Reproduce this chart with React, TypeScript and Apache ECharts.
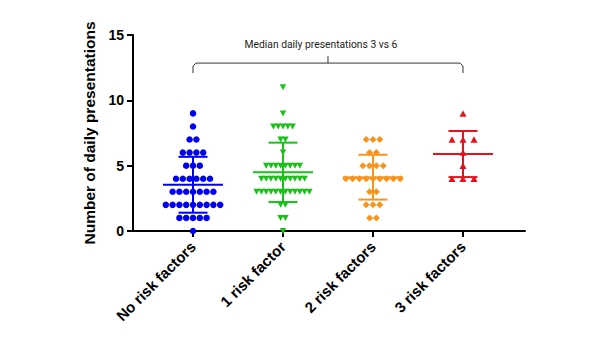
import React, { useEffect, useRef } from "react";
import * as echarts from "echarts";

const categories = ["No risk factors", "1 risk factor", "2 risk factors", "3 risk factors"];
const noRiskValues = [9, 8, 7, 7, 6, 6, 6, 6, 5, 5, 5, 4, 4, 4, 4, 4, 4, 3, 3, 3, 3, 3, 3, 3, 2, 2, 2, 2, 2, 2, 2, 2, 2, 1, 1, 1, 1, 1, 0];
const oneRiskValues = [11, 9, 8, 8, 8, 8, 8, 7, 7, 6, 5, 5, 5, 5, 5, 5, 5, 5, 4, 4, 4, 4, 4, 4, 4, 4, 4, 4, 3, 3, 3, 3, 3, 3, 3, 3, 3, 3, 3, 3, 2, 2, 1, 1, 0];
const twoRiskValues = [7, 7, 7, 6, 6, 5, 5, 5, 5, 4, 4, 4, 4, 4, 4, 4, 4, 4, 3, 3, 2, 2, 2, 1, 1];
const threeRiskValues = [9, 7, 7, 7, 6, 5, 4, 4, 4];
const yTicks = [0, 5, 10, 15];
const annotationText = "Median daily presentations 3 vs 6";
const bracketLevel = 12.85;

const groups = [noRiskValues, oneRiskValues, twoRiskValues, threeRiskValues];
const colors = ["#0000f0", "#19c219", "#f7941d", "#e8101a"];
const symbols = ["circle", "triangle", "diamond", "triangle"];
const rotations = [0, 180, 0, 0];
const sizes: any[] = [6.5, [6.5, 6], [7, 7], [7, 6.5]];
const spacing = [6.8, 4.8, 6.8, 11];

function meanSd(arr: number[]) {
  const n = arr.length;
  const m = arr.reduce((a, b) => a + b, 0) / n;
  const v = arr.reduce((a, b) => a + (b - m) * (b - m), 0) / (n - 1);
  return [m, Math.sqrt(v)];
}

function swarm(arr: number[], gi: number) {
  const rows: Record<number, number> = {};
  arr.forEach((v) => (rows[v] = (rows[v] || 0) + 1));
  const seen: Record<number, number> = {};
  return arr.map((v) => {
    const n = rows[v];
    const i = seen[v] || 0;
    seen[v] = i + 1;
    const dx = (i - (n - 1) / 2) * spacing[gi];
    return { value: [gi, v], symbolOffset: [dx, 0] };
  });
}

export default function App() {
  const ref = useRef<HTMLDivElement>(null);
  useEffect(() => {
    if (!ref.current) return;
    const chart = echarts.init(ref.current, null, { renderer: "svg" });
    const font = "'Liberation Sans', Arial, sans-serif";
    const scatterSeries = groups.map((g, gi) => ({
      type: "scatter",
      data: swarm(g, gi),
      symbol: symbols[gi],
      symbolRotate: rotations[gi],
      symbolSize: sizes[gi],
      itemStyle: { color: colors[gi], opacity: 1 },
      z: 2,
    }));
    const errData = groups.map((g, gi) => {
      const [m, s] = meanSd(g);
      return { value: [gi, m, s], itemStyle: { color: colors[gi] } };
    });
    chart.setOption({
      animation: false,
      grid: { left: 133, right: 77, top: 35, bottom: 107 },
      xAxis: {
        type: "value",
        min: -0.6667,
        max: 3.689,
        splitLine: { show: false },
        axisLine: { show: true, onZero: false, lineStyle: { color: "#000", width: 2 } },
        axisTick: { show: true, customValues: [0, 1, 2, 3], length: 6, lineStyle: { color: "#000", width: 2 } },
        axisLabel: {
          customValues: [0, 1, 2, 3],
          formatter: (v: number) => categories[Math.round(v)],
          rotate: 45,
          margin: 13,
          color: "#000",
          fontWeight: "bold",
          fontSize: 15,
          fontFamily: font,
        },
      },
      yAxis: {
        type: "value",
        min: 0,
        max: 15,
        interval: 5,
        name: "Number of daily presentations",
        nameLocation: "middle",
        nameGap: 32,
        nameTextStyle: { color: "#000", fontWeight: "bold", fontSize: 15.5, fontFamily: font },
        splitLine: { show: false },
        axisLine: { show: true, onZero: false, lineStyle: { color: "#000", width: 2 } },
        axisTick: { show: true, length: 6, lineStyle: { color: "#000", width: 2 } },
        axisLabel: {
          margin: 9,
          color: "#000",
          fontWeight: "bold",
          fontSize: 14,
          fontFamily: font,
          formatter: (v: number) => (yTicks.includes(v) ? String(v) : ""),
        },
      },
      series: [
        ...scatterSeries,
        {
          type: "custom",
          data: errData,
          z: 3,
          renderItem: (params: any, api: any) => {
            const x = api.value(0);
            const m = api.value(1);
            const s = api.value(2);
            const c = api.coord([x, m]);
            const t = api.coord([x, m + s]);
            const b = api.coord([x, m - s]);
            const color = api.visual("color");
            const st = { stroke: color, lineWidth: 2 };
            return {
              type: "group",
              children: [
                { type: "line", shape: { x1: c[0] - 30, y1: c[1], x2: c[0] + 30, y2: c[1] }, style: st },
                { type: "line", shape: { x1: t[0], y1: t[1], x2: b[0], y2: b[1] }, style: st },
                { type: "line", shape: { x1: t[0] - 14.5, y1: t[1], x2: t[0] + 14.5, y2: t[1] }, style: st },
                { type: "line", shape: { x1: b[0] - 14.5, y1: b[1], x2: b[0] + 14.5, y2: b[1] }, style: st },
              ],
            };
          },
        },
        {
          type: "custom",
          data: [[0, 3, bracketLevel]],
          z: 3,
          silent: true,
          renderItem: (params: any, api: any) => {
            const l = api.coord([api.value(0), api.value(2)]);
            const r = api.coord([api.value(1), api.value(2)]);
            const cx = (l[0] + r[0]) / 2;
            const y = l[1];
            const st = { stroke: "#333", lineWidth: 1, fill: "none" };
            return {
              type: "group",
              children: [
                {
                  type: "polyline",
                  shape: { points: [[l[0], y + 10], [l[0], y + 3], [l[0] + 3, y], [r[0] - 3, y], [r[0], y + 3], [r[0], y + 10]] },
                  style: st,
                },
                { type: "line", shape: { x1: cx, y1: y, x2: cx, y2: y - 7 }, style: st },
                {
                  type: "text",
                  x: cx - 7,
                  y: y - 19,
                  style: {
                    text: annotationText,
                    fill: "#222",
                    fontSize: 10.3,
                    fontFamily: "'Liberation Sans Narrow', 'Roboto', sans-serif",
                    align: "center",
                    verticalAlign: "middle",
                  },
                },
              ],
            };
          },
        },
      ],
    });
    return () => chart.dispose();
  }, []);
  return (
    <div
      ref={ref}
      style={{ position: "fixed", left: 0, top: 0, width: 602, height: 338, background: "#fff" }}
    />
  );
}
